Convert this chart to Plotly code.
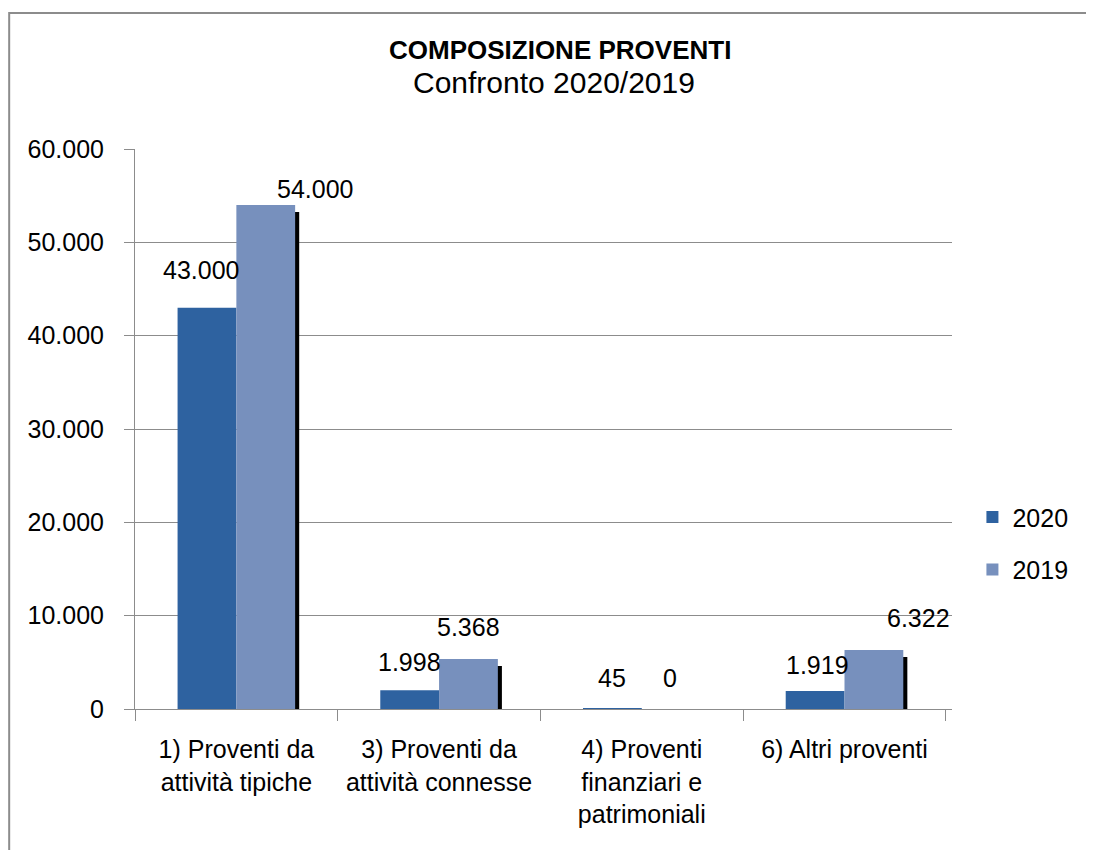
import plotly.graph_objects as go

FONT = "Liberation Sans, Arial, sans-serif"
GRID = "#8c8c8c"
C2020 = "#2e62a0"
C2019 = "#7790bd"

categories = [
    "1) Proventi da<br>attività tipiche",
    "3) Proventi da<br>attività connesse",
    "4) Proventi<br>finanziari e<br>patrimoniali",
    "6) Altri proventi",
]
values_2020 = [43000, 1998, 45, 1919]
values_2019 = [54000, 5368, 0, 6322]
y_ticks = [0, 10000, 20000, 30000, 40000, 50000, 60000]

# label nudges in px (Excel had some labels dragged to the side)
dx_2020 = [-35, -30, -30, -27]
dx_2019 = [79, 29, 28, 74]
dy_2020 = [22, 12, 15, 10]
dy_2019 = [0, 16, 15, 16]


def it_fmt(v):
    return f"{v:,}".replace(",", ".")


fig = go.Figure()

# drop shadow behind the 2019 bars
fig.add_trace(go.Bar(
    x=categories, y=values_2019, base=-750,
    offset=0.02, width=0.29,
    marker=dict(color="#000000", line=dict(width=0)),
    showlegend=False, hoverinfo="skip",
))
fig.add_trace(go.Bar(
    x=categories, y=values_2020, name="2020",
    offset=-0.29, width=0.29,
    marker=dict(color=C2020, line=dict(width=0)),
    legendgroup="a",
))
fig.add_trace(go.Bar(
    x=categories, y=values_2019, name="2019",
    offset=0.0, width=0.29,
    marker=dict(color=C2019, line=dict(width=0)),
    legendgroup="b",
))

annotations = []
for cat, v, dx, dy in zip(categories, values_2020, dx_2020, dy_2020):
    annotations.append(dict(x=cat, y=v, text=it_fmt(v), showarrow=False,
                            xshift=dx, yshift=dy, yanchor="bottom",
                            font=dict(size=25, color="#000000")))
for cat, v, dx, dy in zip(categories, values_2019, dx_2019, dy_2019):
    annotations.append(dict(x=cat, y=v, text=it_fmt(v), showarrow=False,
                            xshift=dx, yshift=dy, yanchor="bottom",
                            font=dict(size=25, color="#000000")))

annotations.append(dict(xref="paper", yref="paper", x=0.52, y=1.177,
                        yanchor="middle",
                        text="<b>COMPOSIZIONE PROVENTI</b>", showarrow=False,
                        font=dict(size=26, color="#000000")))
annotations.append(dict(xref="paper", yref="paper", x=0.513, y=1.118,
                        yanchor="middle",
                        text="Confronto 2020/2019", showarrow=False,
                        font=dict(size=30, color="#000000")))

fig.update_layout(
    width=1094, height=850,
    paper_bgcolor="#ffffff", plot_bgcolor="#ffffff",
    font=dict(family=FONT, size=25, color="#000000"),
    separators=",.",
    barmode="overlay",
    margin=dict(l=127, r=150, t=141, b=149, autoexpand=False),
    showlegend=True,
    legend=dict(x=1.025, y=0.296, xanchor="left", yanchor="middle",
                traceorder="grouped", tracegroupgap=17,
                font=dict(size=25), itemwidth=30),
    annotations=annotations,
    shapes=[dict(type="rect", xref="paper", yref="paper",
                 x0=-0.154, x1=1.4, y0=-0.6, y1=1.243,
                 line=dict(color="#8c8c8c", width=2), layer="below")],
    xaxis=dict(showgrid=False, showline=True, linecolor=GRID, linewidth=1,
               ticks="outside", tickson="boundaries", ticklen=11,
               tickcolor=GRID, tickfont=dict(size=25), tickangle=0,
               automargin=False, ticklabelstandoff=18),
    yaxis=dict(range=[0, 60000], tickvals=y_ticks, tickformat=",d",
               showgrid=True, gridcolor=GRID, gridwidth=1,
               showline=True, linecolor=GRID, linewidth=1,
               ticks="outside", ticklen=10, tickcolor=GRID, automargin=False,
               tickfont=dict(size=25), ticklabelstandoff=15, zeroline=False),
)

fig.write_html("out.html")
